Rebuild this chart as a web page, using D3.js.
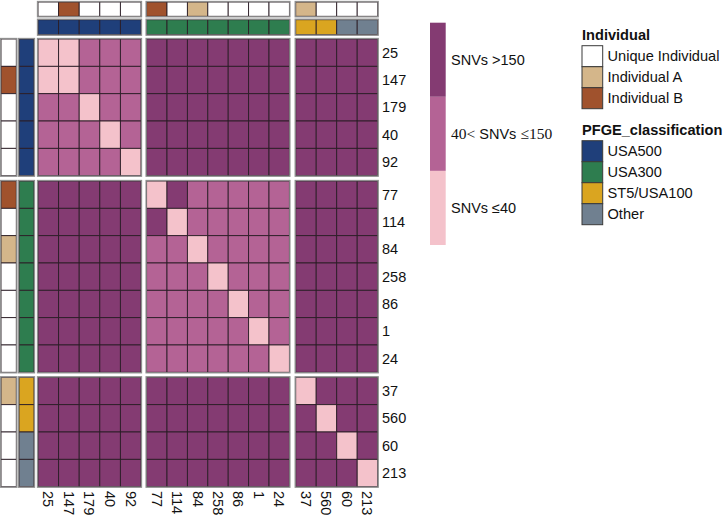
<!DOCTYPE html>
<html><head><meta charset="utf-8">
<script src="https://cdn.jsdelivr.net/npm/d3@7"></script>
<style>body{margin:0;background:#fff}svg{display:block;font-family:"Liberation Sans",Arial,Helvetica,sans-serif}</style>
</head><body><svg id="c" width="726" height="517"></svg>
<script>
// ---- data ----
const blocks = [
  ["25","147","179","40","92"],
  ["77","114","84","258","86","1","24"],
  ["37","560","60","213"]
];
const samples = blocks.flat();
// Individual annotation per sample (same order as samples)
const individual = ["Unique Individual","Individual B","Unique Individual","Unique Individual","Unique Individual",
  "Individual B","Unique Individual","Individual A","Unique Individual","Unique Individual","Unique Individual","Unique Individual",
  "Individual A","Unique Individual","Unique Individual","Unique Individual"];
const pfge = ["USA500","USA500","USA500","USA500","USA500",
  "USA300","USA300","USA300","USA300","USA300","USA300","USA300",
  "ST5/USA100","ST5/USA100","Other","Other"];
// SNV category levels: 0 = SNVs<=40, 1 = 40<SNVs<=150, 2 = SNVs>150 (rows x cols in sample order)
const snvLevel = [
  [0,0,1,1,1, 2,2,2,2,2,2,2, 2,2,2,2],
  [0,0,1,1,1, 2,2,2,2,2,2,2, 2,2,2,2],
  [1,1,0,1,1, 2,2,2,2,2,2,2, 2,2,2,2],
  [1,1,1,0,1, 2,2,2,2,2,2,2, 2,2,2,2],
  [1,1,1,1,0, 2,2,2,2,2,2,2, 2,2,2,2],
  [2,2,2,2,2, 0,2,1,1,1,1,1, 2,2,2,2],
  [2,2,2,2,2, 2,0,1,1,1,1,1, 2,2,2,2],
  [2,2,2,2,2, 1,1,0,1,1,1,1, 2,2,2,2],
  [2,2,2,2,2, 1,1,1,0,1,1,1, 2,2,2,2],
  [2,2,2,2,2, 1,1,1,1,0,1,1, 2,2,2,2],
  [2,2,2,2,2, 1,1,1,1,1,0,1, 2,2,2,2],
  [2,2,2,2,2, 1,1,1,1,1,1,0, 2,2,2,2],
  [2,2,2,2,2, 2,2,2,2,2,2,2, 0,2,2,2],
  [2,2,2,2,2, 2,2,2,2,2,2,2, 2,0,2,2],
  [2,2,2,2,2, 2,2,2,2,2,2,2, 2,2,0,2],
  [2,2,2,2,2, 2,2,2,2,2,2,2, 2,2,2,0]
];
const levelLabels = ["SNVs \u226440","40< SNVs \u2264150","SNVs >150"];
const individualCats = ["Unique Individual","Individual A","Individual B"];
const pfgeCats = ["USA500","USA300","ST5/USA100","Other"];

// ---- colours ----
const levelColor = d3.scaleOrdinal().domain([0,1,2]).range(["#F4C2CB","#B46395","#843B72"]);
const indColor = d3.scaleOrdinal().domain(individualCats).range(["#FFFFFF","#D4B68A","#A0522D"]);
const pfgeColor = d3.scaleOrdinal().domain(pfgeCats).range(["#1F3F7A","#2E7D4F","#DAA520","#708090"]);

const svg = d3.select("#c");

// ---- layout scales (per block) ----
const colRanges = [[38,141],[146.6,289.4],[295.7,377.7]];
const rowRanges = [[39,175.7],[181,372.3],[377.3,486.7]];
const xs = blocks.map((b,i)=>d3.scaleBand().domain(b).range(colRanges[i]));
const ys = blocks.map((b,i)=>d3.scaleBand().domain(b).range(rowRanges[i]));
const blockOf = {};
blocks.forEach((b,i)=>b.forEach(s=>blockOf[s]=i));
const X = s=>xs[blockOf[s]](s), Y = s=>ys[blockOf[s]](s);
const bw = s=>xs[blockOf[s]].bandwidth(), bh = s=>ys[blockOf[s]].bandwidth();

const cellStroke = "#2b1d26";
const outline = "#8f8f8f";

// heatmap cells
const cells = [];
samples.forEach((r,i)=>samples.forEach((c,j)=>cells.push({r,c,v:snvLevel[i][j]})));
svg.append("g").selectAll("rect").data(cells).join("rect")
  .attr("x",d=>X(d.c)).attr("y",d=>Y(d.r)).attr("width",d=>bw(d.c)).attr("height",d=>bh(d.r))
  .attr("fill",d=>levelColor(d.v)).attr("stroke",cellStroke).attr("stroke-width",0.9);
// block outlines
const bo = svg.append("g");
blocks.forEach((_,i)=>blocks.forEach((_,j)=>{
  bo.append("rect").attr("x",colRanges[j][0]-0.5).attr("y",rowRanges[i][0]-0.5)
    .attr("width",colRanges[j][1]-colRanges[j][0]+1).attr("height",rowRanges[i][1]-rowRanges[i][0]+1)
    .attr("fill","none").attr("stroke",outline).attr("stroke-width",1.3);
}));

// top annotations
const topInd = [2,16.3], topPf = [19.7,34.7];
const annTop = svg.append("g");
function topAnn(range, colorFn, vals){
  annTop.append("g").selectAll("rect").data(samples).join("rect")
    .attr("x",d=>X(d)).attr("y",range[0]).attr("width",d=>bw(d)).attr("height",range[1]-range[0])
    .attr("fill",(d,i)=>colorFn(vals[i])).attr("stroke",cellStroke).attr("stroke-width",0.9);
  colRanges.forEach(cr=>annTop.append("rect").attr("x",cr[0]-0.5).attr("y",range[0]-0.5)
    .attr("width",cr[1]-cr[0]+1).attr("height",range[1]-range[0]+1).attr("fill","none")
    .attr("stroke",outline).attr("stroke-width",1.3));
}
topAnn(topInd, indColor, individual);
topAnn(topPf, pfgeColor, pfge);
// left annotations
const leftInd = [1,16.3], leftPf = [19,34];
function leftAnn(range, colorFn, vals){
  annTop.append("g").selectAll("rect").data(samples).join("rect")
    .attr("x",range[0]).attr("y",d=>Y(d)).attr("width",range[1]-range[0]).attr("height",d=>bh(d))
    .attr("fill",(d,i)=>colorFn(vals[i])).attr("stroke",cellStroke).attr("stroke-width",0.9);
  rowRanges.forEach(rr=>annTop.append("rect").attr("x",range[0]-0.5).attr("y",rr[0]-0.5)
    .attr("width",range[1]-range[0]+1).attr("height",rr[1]-rr[0]+1).attr("fill","none")
    .attr("stroke",outline).attr("stroke-width",1.3));
}
leftAnn(leftInd, indColor, individual);
leftAnn(leftPf, pfgeColor, pfge);

// row labels
svg.append("g").selectAll("text").data(samples).join("text")
  .attr("x",382).attr("y",d=>Y(d)+bh(d)/2).attr("dy","0.35em")
  .attr("font-size",14.5).attr("fill","#111").text(d=>d);
// column labels
svg.append("g").selectAll("text").data(samples).join("text")
  .attr("transform",d=>`translate(${X(d)+bw(d)/2},491) rotate(90)`)
  .attr("dy","0.35em").attr("font-size",14.5).attr("fill","#111").text(d=>d);

// colour bar legend
const legY = d3.scaleBand().domain([2,1,0]).range([22.7,245]);
const lg = svg.append("g");
lg.selectAll("rect").data([2,1,0]).join("rect")
  .attr("x",430).attr("y",d=>legY(d)).attr("width",15.7).attr("height",legY.bandwidth())
  .attr("fill",d=>levelColor(d));
const lt = lg.selectAll("text").data([2,1,0]).join("text")
  .attr("x",451).attr("y",d=>legY(d)+legY.bandwidth()/2).attr("dy","0.35em")
  .attr("font-size",14.5).attr("fill","#111");
lt.each(function(d){
  const t=d3.select(this);
  if(d===1){
    t.append("tspan").attr("font-family","'Liberation Serif','Times New Roman',serif").attr("font-size",15.5).text("40<");
    t.append("tspan").text(" SNVs ");
    t.append("tspan").attr("font-family","'Liberation Serif','Times New Roman',serif").attr("font-size",15.5).text("\u2264150");
  } else t.text(levelLabels[d]);
});

// discrete legends
function discLegend(title, cats, colorFn, titleY, top){
  const g = svg.append("g");
  g.append("text").attr("x",582).attr("y",titleY).attr("dy","0.35em").attr("font-size",14.6)
    .attr("font-weight","bold").attr("fill","#111").text(title);
  const sy = d3.scaleBand().domain(cats).range([top, top+21*cats.length]);
  g.selectAll("rect").data(cats).join("rect").attr("x",582).attr("y",d=>sy(d))
    .attr("width",20.7).attr("height",sy.bandwidth()).attr("fill",d=>colorFn(d))
    .attr("stroke","#3a3a3a").attr("stroke-width",1);
  g.selectAll("text.l").data(cats).join("text").attr("class","l").attr("x",607.5)
    .attr("y",d=>sy(d)+sy.bandwidth()/2).attr("dy","0.35em").attr("font-size",14.6)
    .attr("fill","#111").text(d=>d);
}
discLegend("Individual", individualCats, indColor, 35, 45.7);
discLegend("PFGE_classification", pfgeCats, pfgeColor, 130, 140.7);
</script></body></html>
